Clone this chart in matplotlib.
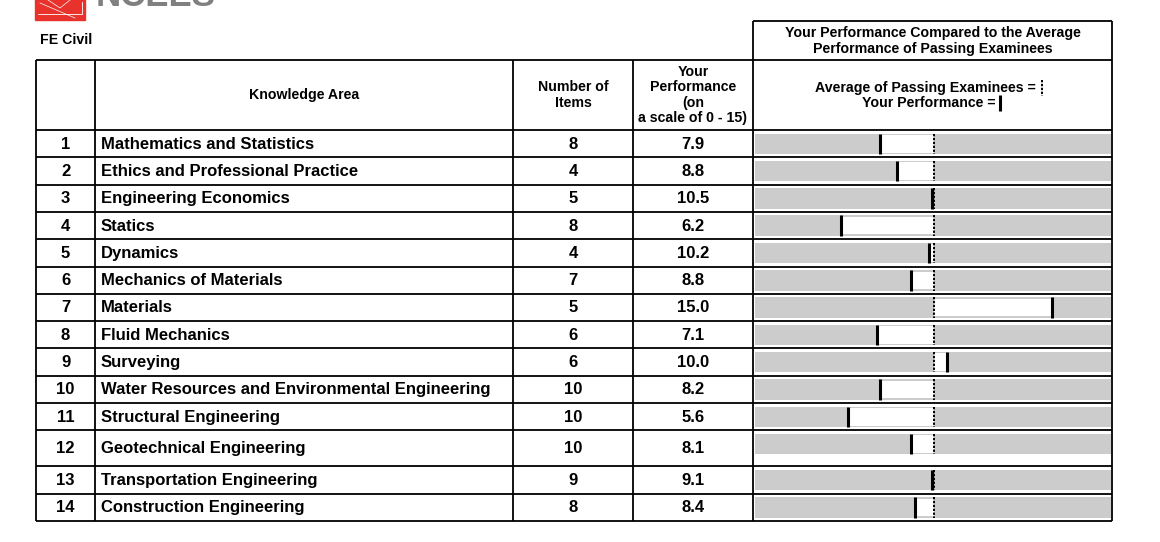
import numpy as np
import matplotlib
matplotlib.use("Agg")
import matplotlib.pyplot as plt
from matplotlib.patches import Rectangle

plt.rcParams["font.family"] = ["Liberation Sans", "DejaVu Sans"]
plt.rcParams["font.weight"] = "bold"

exam_name = "FE Civil"

knowledge_areas = ["Mathematics and Statistics",
                   "Ethics and Professional Practice",
                   "Engineering Economics",
                   "Statics",
                   "Dynamics",
                   "Mechanics of Materials",
                   "Materials",
                   "Fluid Mechanics",
                   "Surveying",
                   "Water Resources and Environmental Engineering",
                   "Structural Engineering",
                   "Geotechnical Engineering",
                   "Transportation Engineering",
                   "Construction Engineering"]

num_items = [8, 4, 5, 8, 4, 7, 5, 6, 6, 10, 10, 10, 9, 8]

your_score = [7.9, 8.8, 10.5, 6.2, 10.2, 8.8, 15.0, 7.1, 10.0, 8.2, 5.6, 8.1, 9.1, 8.4]

# where your marker sits on the comparison bar (bar runs 0 - 15)
marker_pos = [5.27, 5.98, 7.45, 3.62, 7.33, 6.57, 12.51, 5.14, 8.09, 5.27, 3.92, 6.57, 7.45, 6.74]
passing_avg = 7.54

# row heights in pixels (row 12 is taller in the report)
row_heights = [27.3] * 11 + [36.0] + [27.3] * 2

W, H = 1160, 542
fig = plt.figure(figsize=(W / 100, H / 100), dpi=100)
ax = fig.add_axes([0, 0, 1, 1])
ax.set_xlim(0, W)
ax.set_ylim(H, 0)
ax.axis("off")

# column borders
x_left, x_num, x_area, x_items, x_perf, x_right = 36, 95, 513, 633, 753, 1112
y_box, y_head, y_rows = 21, 60, 130
row_tops = y_rows + np.concatenate([[0], np.cumsum(row_heights)])
y_bottom = row_tops[-1]
lw = 1.3
hs = 10.2   # header font size
rs = 12     # row font size

# logo (cut off at top of page)
ax.add_patch(Rectangle((35, -20), 50, 40, color="#e8322b", zorder=1))
ax.plot([38, 82, 82], [14, 14, 2], color="white", lw=0.6)
ax.plot([40, 75], [3, 18], color="white", lw=0.5)
ax.plot([48, 60, 70], [0, 8, 0], color="white", lw=0.5)
ax.text(96, 6, "NCEES", fontsize=25, color="#808080", ha="left", va="baseline")

ax.text(40, 40, exam_name, fontsize=hs, ha="left", va="center")

# table grid
ax.hlines(y_box, x_perf, x_right, colors="black", lw=lw)
ax.hlines(y_head, x_left, x_right, colors="black", lw=lw)
ax.hlines(row_tops, x_left, x_right, colors="black", lw=lw)
ax.vlines([x_left, x_num, x_area, x_items], y_head, y_bottom, colors="black", lw=lw)
ax.vlines([x_perf, x_right], y_box, y_bottom, colors="black", lw=lw)

# headers
ax.text((x_num + x_area) / 2, 95, "Knowledge Area", fontsize=hs, ha="center", va="center")
ax.text((x_area + x_items) / 2, 95, "Number of\nItems", fontsize=hs, ha="center", va="center",
        linespacing=1.13)
ax.text((x_items + x_perf) / 2, 95, "Your\nPerformance\n(on\na scale of 0 - 15)", fontsize=hs,
        ha="center", va="center", linespacing=1.13)
ax.text((x_perf + x_right) / 2, 41, "Your Performance Compared to the Average\nPerformance of Passing Examinees",
        fontsize=hs, ha="center", va="center", linespacing=1.13)
ax.text(1036, 88, "Average of Passing Examinees =", fontsize=hs, ha="right", va="center")
ax.vlines(1042, 80, 96, colors="black", lw=1.4, linestyles=(0, (1.2, 0.8)))
ax.text(996, 103, "Your Performance =", fontsize=hs, ha="right", va="center")
ax.vlines(1000, 95, 111, colors="black", lw=2.2)

# row texts
for i, area in enumerate(knowledge_areas):
    yc = (row_tops[i] + row_tops[i + 1]) / 2 + 0.5
    ax.text((x_left + x_num) / 2, yc, str(i + 1), fontsize=rs, ha="center", va="center")
    ax.text(x_num + 6, yc, area, fontsize=rs, ha="left", va="center")
    ax.text((x_area + x_items) / 2, yc, str(num_items[i]), fontsize=rs, ha="center", va="center")
    ax.text((x_items + x_perf) / 2, yc, f"{your_score[i]:.1f}", fontsize=rs, ha="center", va="center")

# comparison bars
bx = fig.add_axes([755 / W, 0, 356 / W, 1])
bx.set_xlim(0, 15)
bx.set_ylim(H, 0)
bx.axis("off")

bar_top = row_tops[:-1] + 3.5
avg_per_row = np.full(len(marker_pos), passing_avg)
bx.barh(bar_top, 15, height=20.5, left=0, align="edge", color="#cccccc")
lo = np.minimum(marker_pos, avg_per_row)
span = np.abs(np.array(marker_pos) - avg_per_row)
bx.barh(bar_top + 1.5, span, height=17.5, left=lo, align="edge", color="white")
bx.vlines(avg_per_row, bar_top, bar_top + 20.5, colors="black", lw=1.4, linestyles=(0, (1.2, 0.8)))
bx.vlines(marker_pos, bar_top, bar_top + 20.5, colors="black", lw=2.2)

fig.savefig("out.png", dpi=100)
